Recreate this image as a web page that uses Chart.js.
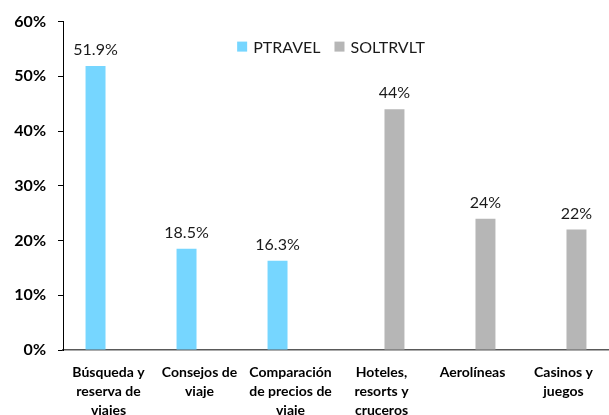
<!DOCTYPE html>
<html>
<head>
<meta charset="utf-8">
<script src="https://cdn.jsdelivr.net/npm/chart.js@4.4.1/dist/chart.umd.min.js"></script>
<style>
html,body{margin:0;padding:0;background:#fff;}
#wrap{width:609px;height:415px;position:relative;}
</style>
</head>
<body>
<div id="wrap"><canvas id="c" width="609" height="415"></canvas></div>
<script>
const categories = [
  ["Búsqueda y","reserva de","viajes"],
  ["Consejos de","viaje"],
  ["Comparación","de precios de","viaje"],
  ["Hoteles,","resorts y","cruceros"],
  ["Aerolíneas"],
  ["Casinos y","juegos"]
];
const seriesNames = ["PTRAVEL", "SOLTRVLT"];
const ptravel = [51.9, 18.5, 16.3, null, null, null];
const soltrvlt = [null, null, null, 44, 24, 22];
const yTicks = [0, 10, 20, 30, 40, 50, 60];
const colors = ["#76D6FF", "#B6B6B6"];
const FONT = "Lato, 'Open Sans', sans-serif";

const dataLabels = {
  id: 'dataLabels',
  afterDatasetsDraw(chart) {
    const ctx = chart.ctx;
    ctx.save();
    ctx.font = "16px " + FONT;
    ctx.fillStyle = "#1a1a1a";
    ctx.textAlign = "center";
    ctx.textBaseline = "bottom";
    chart.data.datasets.forEach((ds, i) => {
      const meta = chart.getDatasetMeta(i);
      meta.data.forEach((el, j) => {
        const v = ds.data[j];
        if (v === null || v === undefined) return;
        ctx.fillText(v + "%", el.x, el.y - 8);
      });
    });
    ctx.restore();
  }
};

const customLegend = {
  id: 'customLegend',
  afterDraw(chart) {
    const ctx = chart.ctx;
    const ca = chart.chartArea;
    ctx.save();
    ctx.font = "16px " + FONT;
    ctx.textBaseline = "middle";
    const box = 10, gap = 6, itemGap = 14;
    const items = chart.data.datasets.map(d => ({label: d.label, color: d.backgroundColor, w: box + gap + ctx.measureText(d.label).width}));
    const total = items.reduce((s, it) => s + it.w, 0) + itemGap * (items.length - 1);
    let x = (ca.left + ca.right) / 2 - total / 2 - 5;
    const y = ca.top + 25;
    items.forEach(it => {
      ctx.fillStyle = it.color;
      ctx.fillRect(x, y - 5, box, box);
      ctx.fillStyle = "#1a1a1a";
      ctx.textAlign = "left";
      ctx.fillText(it.label, x + box + gap, y + 1);
      x += it.w + itemGap;
    });
    ctx.restore();
  }
};

new Chart(document.getElementById('c'), {
  type: 'bar',
  data: {
    labels: categories,
    datasets: [
      {label: seriesNames[0], data: ptravel, backgroundColor: colors[0], categoryPercentage: 0.57, barPercentage: 0.77},
      {label: seriesNames[1], data: soltrvlt, backgroundColor: colors[1], categoryPercentage: 0.57, barPercentage: 0.77}
    ]
  },
  options: {
    responsive: false,
    animation: false,
    layout: {padding: {top: 12, right: 0, bottom: 0, left: 0}},
    plugins: {legend: {display: false}, tooltip: {enabled: false}},
    scales: {
      x: {
        grid: {display: false},
        border: {display: true, color: '#595959', width: 1.5},
        ticks: {color: '#000', font: {family: FONT, size: 14, weight: 'bold', lineHeight: 1.36}, padding: 5, maxRotation: 0, autoSkip: false},
        afterFit(scale) { scale.height = 65; }
      },
      y: {
        min: 0, max: 60,
        afterBuildTicks(scale) { scale.ticks = yTicks.map(v => ({value: v})); },
        grid: {drawOnChartArea: false, drawTicks: true, tickLength: 5, color: '#000'},
        border: {display: true, color: '#000', width: 1},
        ticks: {color: '#000', font: {family: FONT, size: 16, weight: 'bold'}, padding: 12, callback: v => v + '%'},
        afterFit(scale) { scale.width = 63; }
      }
    }
  },
  plugins: [dataLabels, customLegend]
});
</script>
</body>
</html>
